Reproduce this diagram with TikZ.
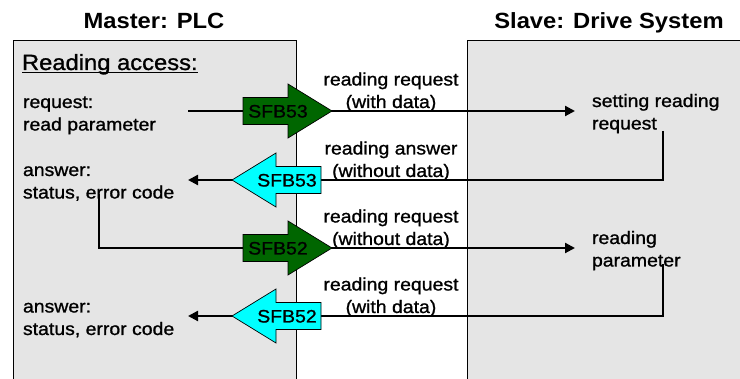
\documentclass[tikz,border=0pt]{standalone}
\usepackage{fontspec}
\setmainfont{Liberation Sans}[FakeStretch=1.08]
\newfontfamily\bodyfont{Liberation Sans}[FakeStretch=1.08,FakeBold=1.1]
\usetikzlibrary{arrows.meta}
\definecolor{boxgray}{RGB}{229,229,229}
\definecolor{sfbgreen}{RGB}{0,102,0}
\definecolor{sfbcyan}{RGB}{0,255,255}
\begin{document}
\begin{tikzpicture}[x=1pt,y=-1pt,
  txt/.style={font=\bodyfont\fontsize{18}{22.5}\selectfont, inner sep=0pt, outer sep=0pt},
  head/.style={font=\fontsize{22}{26}\selectfont\bfseries, inner sep=0pt, anchor=base},
  sidebox/.style={draw=black, fill=boxgray, line width=0.8pt},
  conn/.style={line width=2.2pt, line join=miter},
  tipconn/.style={conn, -{Triangle[length=10pt,width=10pt]}},
  blockarrow/.style={draw=black, line width=0.7pt, line join=miter},
  sfbR/.pic={\path[blockarrow, fill=sfbgreen] (0,-13.5) -- (45,-13.5) -- (45,-27) -- (89,0) -- (45,27) -- (45,13.5) -- (0,13.5) -- cycle;},
  sfbL/.pic={\path[blockarrow, fill=sfbcyan] (0,-13.5) -- (-45,-13.5) -- (-45,-27) -- (-89,0) -- (-45,27) -- (-45,13.5) -- (0,13.5) -- cycle;}
]
\path[use as bounding box] (0,0) rectangle (740,379);
\begin{scope}
  \clip (0,0) rectangle (740,379);
  \path[sidebox] (13,40) rectangle (296,400);
  \path[sidebox] (467,40) rectangle (760,400);
\end{scope}

% headings
\node[head] (hm) at (154,28.5) {Master: PLC};
\node[head] (hs) at (609,28.5) {Slave: Drive System};
\node[txt, font=\bodyfont\fontsize{22}{26}\selectfont, anchor=base west] (ra) at (22,70) {Reading access:};
\draw[line width=1.2pt] ([yshift=-2.5pt]ra.base west) -- ([yshift=-2.5pt]ra.base east);

% left texts (base anchor = baseline of the last line)
\node[txt, anchor=base west, align=left] (req) at (23,130.5) {request:\\read parameter};
\node[txt, anchor=base west, align=left] (ans1) at (23,198.5) {answer:\\status, error code};
\node[txt, anchor=base west, align=left] (ans2) at (23,335) {answer:\\status, error code};

% right texts
\node[txt, anchor=base west, align=left] (set) at (592,129.5) {setting reading\\request};
\node[txt, anchor=base west, align=left] (rpar) at (592,266.5) {reading\\parameter};

% middle labels
\node[txt, anchor=base, align=center] (l1) at (391,108) {reading request\\(with data)};
\node[txt, anchor=base, align=center] (l2) at (391,177) {reading answer\\(without data)};
\node[txt, anchor=base, align=center] (l3) at (391,245) {reading request\\(without data)};
\node[txt, anchor=base, align=center] (l4) at (391,313) {reading request\\(with data)};

% connector end points
\coordinate (r1s) at (188,111);
\coordinate (r1e) at (575,111);
\coordinate (r2s) at (663,131);
\coordinate (r2e) at (188,180);
\coordinate (r3s) at (99,194);
\coordinate (r3e) at (575,248);
\coordinate (r4s) at (663,264);
\coordinate (r4e) at (188,316);

\draw[tipconn] (r1s) -- (r1e);
\draw[tipconn] (r2s) |- (r2e);
\draw[tipconn] (r3s) |- (r3e);
\draw[tipconn] (r4s) |- (r4e);

% block arrows
\pic at (243,111) {sfbR};
\pic at (321,180) {sfbL};
\pic at (243,248) {sfbR};
\pic at (321,316) {sfbL};
\node[txt, anchor=base] (s1) at (278,117.5) {SFB53};
\node[txt, anchor=base] (s2) at (287,186.5) {SFB53};
\node[txt, anchor=base] (s3) at (278,254.5) {SFB52};
\node[txt, anchor=base] (s4) at (287,322.5) {SFB52};
\end{tikzpicture}
\end{document}
